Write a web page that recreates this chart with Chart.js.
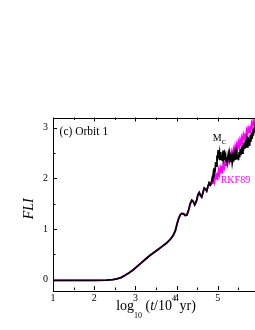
<!DOCTYPE html>
<html>
<head>
<meta charset="utf-8">
<title>FLI - Orbit 1</title>
<script src="https://cdn.jsdelivr.net/npm/chart.js@4.4.1/dist/chart.umd.min.js"></script>
<style>
    html, body { margin: 0; padding: 0; background: #fff; overflow: hidden; }
    #wrap { width: 262px; height: 330px; }
</style>
</head>
<body>
<div id="wrap"><canvas id="fli-chart" width="262" height="330"></canvas></div>
<script>
/**
 * Both integrators give the same curve up to log10 t ~ 4.85
 */
var commonT = [1.0, 1.5, 2.0, 2.3, 2.45, 2.55, 2.65, 2.75, 2.85, 2.95, 3.05, 3.15, 3.25, 3.35,
    3.45, 3.55, 3.65, 3.75, 3.85, 3.92, 3.97, 4.01, 4.05, 4.09, 4.13, 4.17, 4.21, 4.25, 4.29,
    4.33, 4.37, 4.40, 4.44, 4.48, 4.52, 4.55, 4.58, 4.61, 4.64, 4.67, 4.70, 4.73, 4.76, 4.79,
    4.82, 4.84];
var commonFli = [-0.01, -0.01, -0.01, -0.005, 0.005, 0.02, 0.045, 0.09, 0.14, 0.20, 0.27, 0.34,
    0.41, 0.48, 0.54, 0.60, 0.66, 0.72, 0.80, 0.88, 0.97, 1.10, 1.21, 1.28, 1.31, 1.30, 1.27,
    1.28, 1.37, 1.50, 1.57, 1.55, 1.48, 1.55, 1.68, 1.72, 1.66, 1.63, 1.72, 1.81, 1.79, 1.75,
    1.84, 1.91, 1.87, 1.90];

/**
 * M_C tail (black)
 */
var mcT = [4.86, 4.87, 4.89, 4.90, 4.92, 4.93, 4.95, 4.96, 4.98, 4.99, 5.01, 5.02, 5.04, 5.05,
    5.07, 5.08, 5.10, 5.11, 5.13, 5.14, 5.16, 5.17, 5.19, 5.20, 5.22, 5.23, 5.25, 5.26, 5.28,
    5.29, 5.31, 5.32, 5.34, 5.35, 5.37, 5.38, 5.40, 5.41, 5.43, 5.44, 5.46, 5.47, 5.49, 5.50,
    5.52, 5.53, 5.55, 5.56, 5.58, 5.59, 5.61, 5.62, 5.64, 5.65, 5.67, 5.68, 5.70, 5.71, 5.73,
    5.74, 5.76, 5.77, 5.79, 5.80, 5.82, 5.83, 5.85, 5.86, 5.88, 5.89, 5.91, 5.92, 5.94, 5.96,
    5.98, 6.00];
var mcFli = [1.98, 1.93, 2.08, 2.02, 2.20, 2.12, 2.32, 2.24, 2.45, 2.36, 2.56, 2.40, 2.50, 2.36,
    2.52, 2.38, 2.46, 2.34, 2.55, 2.40, 2.47, 2.36, 2.44, 2.34, 2.42, 2.33, 2.45, 2.36, 2.48,
    2.38, 2.43, 2.32, 2.40, 2.31, 2.42, 2.33, 2.45, 2.36, 2.47, 2.37, 2.50, 2.40, 2.46, 2.36,
    2.52, 2.42, 2.58, 2.46, 2.62, 2.50, 2.66, 2.54, 2.70, 2.58, 2.75, 2.60, 2.72, 2.62, 2.82,
    2.66, 2.78, 2.64, 2.86, 2.72, 2.90, 2.78, 2.95, 2.84, 3.00, 2.90, 3.04, 2.96, 3.08, 3.02,
    3.12, 3.08];

/**
 * RKF89 tail (magenta band)
 */
var rkfT = [4.86, 4.88, 4.90, 4.92, 4.94, 4.96, 4.98, 5.00, 5.02, 5.04, 5.06, 5.08, 5.10, 5.12,
    5.14, 5.16, 5.18, 5.20, 5.22, 5.24, 5.26, 5.28, 5.30, 5.32, 5.34, 5.36, 5.38, 5.40, 5.42,
    5.44, 5.46, 5.48, 5.50, 5.52, 5.54, 5.56, 5.58, 5.60, 5.62, 5.64, 5.66, 5.68, 5.70, 5.72,
    5.74, 5.76, 5.78, 5.80, 5.82, 5.84, 5.86, 5.88, 5.90, 5.92, 5.94, 5.96, 5.98];
var rkfFli = [1.97, 1.89, 2.02, 1.94, 2.06, 1.99, 2.11, 2.03, 2.16, 2.08, 2.20, 2.12, 2.25, 2.17,
    2.29, 2.22, 2.34, 2.26, 2.39, 2.31, 2.43, 2.35, 2.48, 2.40, 2.52, 2.45, 2.57, 2.49, 2.62,
    2.54, 2.66, 2.58, 2.71, 2.63, 2.75, 2.68, 2.80, 2.72, 2.85, 2.77, 2.89, 2.81, 2.94, 2.86,
    2.98, 2.91, 3.03, 2.95, 3.08, 3.00, 3.12, 3.05, 3.17, 3.09, 3.21, 3.14, 3.26];

/**
 * Tick labels
 */
var xTickLabels = [1, 2, 3, 4, 5];
var yTickLabels = [0, 1, 2, 3];

(function() {
    'use strict';

    var SERIF = '"Liberation Serif", "DejaVu Serif", serif';

    /**
     * Zip two arrays into {x, y} points
     */
    function toPoints(t, v) {
        return t.map(function(x, i) {
            return { x: x, y: v[i] };
        });
    }

    /**
     * Draw runs of text (for sub/superscripts), centred on cx
     */
    function drawRuns(ctx, runs, cx, baseline) {
        var total = 0;
        runs.forEach(function(r) {
            ctx.font = r.font;
            r.w = ctx.measureText(r.text).width;
            total += r.w;
        });
        var x = cx - total / 2;
        ctx.textAlign = 'left';
        ctx.textBaseline = 'alphabetic';
        runs.forEach(function(r) {
            ctx.font = r.font;
            ctx.fillText(r.text, x, baseline + (r.dy || 0));
            x += r.w;
        });
    }

    /**
     * Frame, inward ticks, axis titles and annotations
     */
    var decorations = {
        id: 'decorations',
        afterDraw: function(chart) {
            var ctx = chart.ctx;
            var a = chart.chartArea;
            var xs = chart.scales.x;
            var ys = chart.scales.y;
            var v, px, len;

            ctx.save();
            ctx.strokeStyle = '#000';
            ctx.lineWidth = 1;
            ctx.strokeRect(Math.round(a.left) + 0.5, Math.round(a.top) + 0.5,
                Math.round(a.right - a.left), Math.round(a.bottom - a.top));

            ctx.beginPath();
            for (v = xs.min; v <= xs.max + 1e-9; v += 0.5) {
                len = Math.abs(v - Math.round(v)) < 1e-9 ? 4 : 2.5;
                px = Math.round(xs.getPixelForValue(v)) + 0.5;
                ctx.moveTo(px, a.bottom);
                ctx.lineTo(px, a.bottom - len);
                ctx.moveTo(px, a.top);
                ctx.lineTo(px, a.top + len);
            }
            for (v = Math.ceil(ys.min * 2) / 2; v <= ys.max + 1e-9; v += 0.5) {
                len = Math.abs(v - Math.round(v)) < 1e-9 ? 4 : 2.5;
                px = Math.round(ys.getPixelForValue(v)) + 0.5;
                ctx.moveTo(a.left, px);
                ctx.lineTo(a.left + len, px);
                ctx.moveTo(a.right, px);
                ctx.lineTo(a.right - len, px);
            }
            ctx.stroke();

            ctx.fillStyle = '#000';

            // x title: log10 (t/10^4 yr)
            drawRuns(ctx, [
                { text: 'log', font: '14px ' + SERIF },
                { text: '10', font: '8px ' + SERIF, dy: 7.5 },
                { text: ' (', font: '14px ' + SERIF },
                { text: 't', font: 'italic 14px ' + SERIF },
                { text: '/10', font: '14px ' + SERIF },
                { text: '4', font: '8px ' + SERIF, dy: -9 },
                { text: ' yr)', font: '14px ' + SERIF }
            ], (a.left + a.right) / 2, 310);

            // y title
            ctx.save();
            ctx.translate(33, ys.getPixelForValue(1.4));
            ctx.rotate(-Math.PI / 2);
            ctx.font = 'italic 14px ' + SERIF;
            ctx.textAlign = 'center';
            ctx.textBaseline = 'alphabetic';
            ctx.fillText('FLI', 0, 0);
            ctx.restore();

            // panel label
            ctx.textAlign = 'left';
            ctx.textBaseline = 'alphabetic';
            ctx.font = '11.5px ' + SERIF;
            ctx.fillText('(c) Orbit 1', xs.getPixelForValue(1.16), ys.getPixelForValue(2.86));

            // series labels
            var mx = xs.getPixelForValue(4.88);
            var my = ys.getPixelForValue(2.73);
            ctx.font = '10px ' + SERIF;
            ctx.fillText('M', mx, my);
            var mw = ctx.measureText('M').width;
            ctx.font = '7px ' + SERIF;
            ctx.fillText('C', mx + mw, my + 3);

            ctx.fillStyle = '#ff00ff';
            ctx.font = '10px ' + SERIF;
            ctx.fillText('RKF89', xs.getPixelForValue(5.07), ys.getPixelForValue(1.91));

            ctx.restore();
        }
    };

    var tickFont = { family: SERIF, size: 10 };

    new Chart(document.getElementById('fli-chart'), {
        type: 'line',
        data: {
            datasets: [{
                label: 'M_C',
                data: toPoints(commonT.concat(mcT), commonFli.concat(mcFli)),
                borderColor: '#000000',
                borderWidth: 1.8,
                pointRadius: 0,
                tension: 0,
                fill: false
            }, {
                label: 'RKF89',
                data: toPoints(commonT.concat(rkfT), commonFli.concat(rkfFli)),
                borderColor: '#ff00ff',
                borderWidth: 1.8,
                pointRadius: 0,
                tension: 0,
                fill: false
            }]
        },
        options: {
            responsive: false,
            animation: false,
            events: [],
            layout: {
                padding: { top: 117.5, right: 3, left: 0, bottom: 0 }
            },
            plugins: {
                legend: { display: false },
                tooltip: { enabled: false }
            },
            scales: {
                x: {
                    type: 'linear',
                    min: 1,
                    max: 6,
                    grid: { display: false, drawTicks: false },
                    border: { display: false },
                    ticks: {
                        font: tickFont,
                        color: '#000',
                        padding: 2,
                        maxRotation: 0,
                        autoSkip: false
                    },
                    afterBuildTicks: function(scale) {
                        scale.ticks = xTickLabels.map(function(v) { return { value: v }; });
                    },
                    afterFit: function(scale) {
                        scale.height = 40;
                    }
                },
                y: {
                    min: -0.2,
                    max: 3.2,
                    grid: { display: false, drawTicks: false },
                    border: { display: false },
                    ticks: {
                        font: tickFont,
                        color: '#000',
                        padding: 5,
                        autoSkip: false
                    },
                    afterBuildTicks: function(scale) {
                        scale.ticks = yTickLabels.map(function(v) { return { value: v }; });
                    },
                    afterFit: function(scale) {
                        scale.width = 53;
                    }
                }
            }
        },
        plugins: [decorations]
    });
})();
</script>
</body>
</html>
